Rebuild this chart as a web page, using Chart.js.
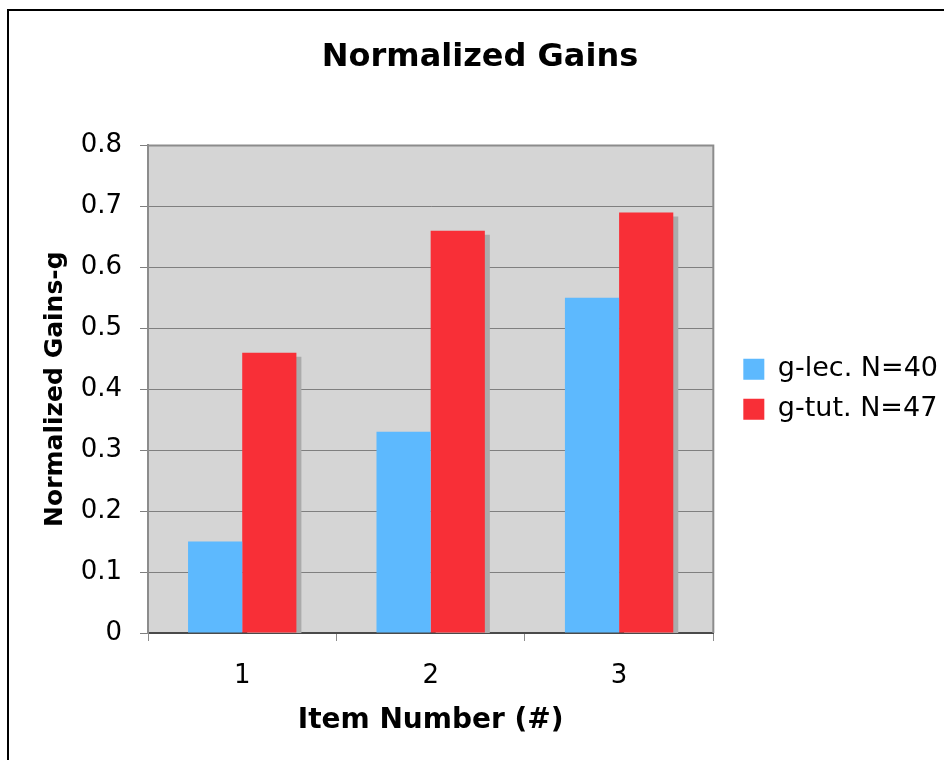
<!DOCTYPE html>
<html>
<head>
<meta charset="utf-8">
<script src="https://cdn.jsdelivr.net/npm/chart.js@4.4.1/dist/chart.umd.min.js"></script>
<style>
html, body { margin: 0; padding: 0; background: #fff; overflow: hidden; }
#wrap { position: relative; width: 944px; height: 760px; }
#frame { position: absolute; left: 7px; top: 9px; width: 1000px; height: 1000px; border: 2px solid #000; }
canvas { position: absolute; left: 0; top: 0; }
</style>
</head>
<body>
<div id="wrap">
	<div id="frame"></div>
	<canvas id="barChart" width="944" height="760"></canvas>
</div>
<script>
// data
const categories = ['1', '2', '3'];
const lecValues = [0.15, 0.33, 0.55];
const tutValues = [0.46, 0.66, 0.69];
const seriesNames = ['g-lec. N=40', 'g-tut. N=47'];
const yTickLabels = ['0', '0.1', '0.2', '0.3', '0.4', '0.5', '0.6', '0.7', '0.8'];

const FONT = "'DejaVu Sans', Verdana, sans-serif";

// grey plot background + frame on top and right
const plotBg = {
	id: 'plotBg',
	beforeDraw(chart) {
		const { ctx, chartArea: a } = chart;
		ctx.save();
		ctx.fillStyle = '#d5d5d5';
		ctx.fillRect(a.left, a.top, a.right - a.left, a.bottom - a.top);
		ctx.restore();
	},
	afterDraw(chart) {
		const { ctx, chartArea: a } = chart;
		ctx.save();
		ctx.strokeStyle = '#8c8c8c';
		ctx.lineWidth = 2;
		ctx.beginPath();
		ctx.moveTo(a.left, a.top);
		ctx.lineTo(a.right, a.top);
		ctx.lineTo(a.right, a.bottom);
		ctx.stroke();
		ctx.restore();
	}
};

// flat drop shadow, only on the taller (red) series which is drawn first
const barShadow = {
	id: 'barShadow',
	beforeDatasetDraw(chart, args) {
		const ctx = chart.ctx;
		ctx.save();
		if (args.index === 1) {
			ctx.shadowColor = '#ababab';
			ctx.shadowOffsetX = 5;
			ctx.shadowOffsetY = 4;
			ctx.shadowBlur = 0;
		}
	},
	afterDatasetDraw(chart) {
		chart.ctx.restore();
	}
};

const barCtx = document.getElementById('barChart').getContext('2d');

const barChart = new Chart(barCtx, {
	type: 'bar',
	data: {
		labels: categories,
		datasets: [{
			label: seriesNames[0],
			data: lecValues,
			backgroundColor: '#5db9fe',
			borderWidth: 0
		}, {
			label: seriesNames[1],
			data: tutValues,
			backgroundColor: '#f82f37',
			borderWidth: 0
		}]
	},
	options: {
		responsive: false,
		animation: false,
		categoryPercentage: 0.575,
		barPercentage: 1,
		layout: {
			padding: { left: 12, right: -4, top: 0, bottom: 16 }
		},
		plugins: {
			title: {
				display: true,
				text: 'Normalized Gains',
				color: '#000',
				font: { family: FONT, size: 32, weight: 'bold' },
				padding: { top: 38, bottom: 69 }
			},
			legend: {
				position: 'right',
				fullSize: false,
				maxWidth: 300,
				labels: {
					color: '#000',
					font: { family: FONT, size: 27 },
					boxWidth: 21,
					boxHeight: 21,
					padding: 13
				}
			},
			tooltip: { enabled: false }
		},
		scales: {
			x: {
				z: 1,
				afterFit(scale) { scale.height = 111; },
				grid: {
					drawOnChartArea: false,
					tickLength: 8,
					color: '#8c8c8c'
				},
				border: { color: '#4a4a4a', width: 2 },
				ticks: {
					color: '#000',
					padding: 20,
					font: { family: FONT, size: 26 }
				},
				title: {
					display: true,
					text: 'Item Number (#)',
					color: '#000',
					font: { family: FONT, size: 28, weight: 'bold' },
					padding: { top: 0, bottom: 6 }
				}
			},
			y: {
				min: 0,
				max: 0.8,
				afterFit(scale) { scale.width = 136; },
				grid: {
					color: '#7f7f7f',
					tickLength: 8
				},
				border: { color: '#8c8c8c', width: 2 },
				ticks: {
					stepSize: 0.1,
					color: '#000',
					padding: 18,
					font: { family: FONT, size: 26 },
					callback: (v, i) => yTickLabels[i]
				},
				title: {
					display: true,
					text: 'Normalized Gains-g',
					color: '#000',
					font: { family: FONT, size: 25, weight: 'bold' },
					padding: { top: 28, bottom: 0 }
				}
			},
			// empty spacer between the plot and the legend
			gap: {
				type: 'linear',
				position: 'right',
				afterFit(scale) { scale.width = 17; },
				grid: { display: false },
				border: { display: false },
				ticks: { display: false }
			}
		}
	},
	plugins: [plotBg, barShadow]
});
</script>
</body>
</html>
